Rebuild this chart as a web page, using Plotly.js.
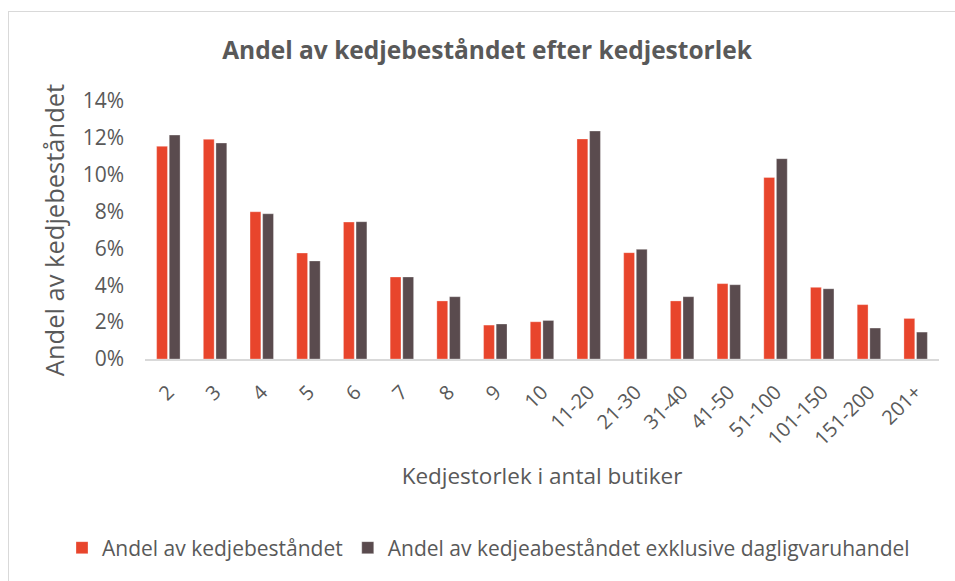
<!DOCTYPE html>
<html><head><meta charset="utf-8">
<script src="https://cdn.plot.ly/plotly-3.0.1.min.js"></script>
<style>
html,body{margin:0;padding:0;background:#fff;}
#frame{position:absolute;left:8px;top:11px;width:1000px;height:600px;border-left:1.5px solid #D9D9D9;border-top:1.5px solid #D9D9D9;pointer-events:none;}
#chart{position:absolute;left:0;top:0;width:955px;height:581px;}
</style></head>
<body>
<div id="chart"></div>
<div id="frame"></div>
<script>
const categories = ["2","3","4","5","6","7","8","9","10","11-20","21-30","31-40","41-50","51-100","101-150","151-200","201+"];
const seriesAll = [11.54,11.92,7.99,5.75,7.43,4.45,3.15,1.84,2.02,11.94,5.77,3.15,4.09,9.85,3.89,2.95,2.20];
const seriesExcl = [12.15,11.72,7.88,5.32,7.45,4.45,3.38,1.90,2.09,12.37,5.95,3.38,4.03,10.87,3.81,1.68,1.46];
const seriesNames = ["Andel av kedjebeståndet","Andel av kedjeabeståndet exklusive dagligvaruhandel"];
const yTicks = [0,2,4,6,8,10,12,14];
const yTickLabels = ["0%","2%","4%","6%","8%","10%","12%","14%"];

const FONT = "'Open Sans', sans-serif";
const GREY = "#595959";

const data = [
  {type:"bar", x:categories, y:seriesAll, name:seriesNames[0],
   marker:{color:"#E8452C", line:{color:"rgba(255,255,255,0.5)", width:0.6}}},
  {type:"bar", x:categories, y:seriesExcl, name:seriesNames[1],
   marker:{color:"#5A4B4E", line:{color:"rgba(255,255,255,0.5)", width:0.6}}}
];

const layout = {
  width:955, height:581,
  paper_bgcolor:"#fff", plot_bgcolor:"#fff",
  margin:{l:145, r:16, t:101, b:222},
  barmode:"group", bargap:0.46, bargroupgap:0.14,
  font:{family:FONT, color:GREY},
  title:{text:"Andel av kedjebeståndet efter kedjestorlek", font:{family:FONT, size:24.5, color:GREY, weight:"bold"},
         x:0.51, xref:"container", xanchor:"center", y:1-50/581, yref:"container", yanchor:"middle"},
  xaxis:{type:"category", tickangle:-45, tickfont:{size:20, color:GREY}, showgrid:false,
         showline:true, linecolor:"#D9D9D9", linewidth:1.5, ticks:"", ticklabelstandoff:12,
         title:{text:"Kedjestorlek i antal butiker", font:{size:22.5, color:GREY}, standoff:18}},
  yaxis:{range:[0,14], tickvals:yTicks, ticktext:yTickLabels, tickfont:{size:21, color:GREY},
         showgrid:false, zeroline:false, showline:false, ticks:"", ticklabelstandoff:20,
         title:{text:"Andel av kedjebeståndet", font:{size:25.5, color:GREY}, standoff:10}},
  showlegend:true,
  legend:{orientation:"h", xref:"paper", yref:"paper", x:(62-145)/794, xanchor:"left",
          y:(359-548)/258, yanchor:"middle", font:{size:21, color:GREY}, itemwidth:30, traceorder:"normal"}
};

Plotly.newPlot("chart", data, layout, {displayModeBar:false, staticPlot:true});
</script>
</body></html>
